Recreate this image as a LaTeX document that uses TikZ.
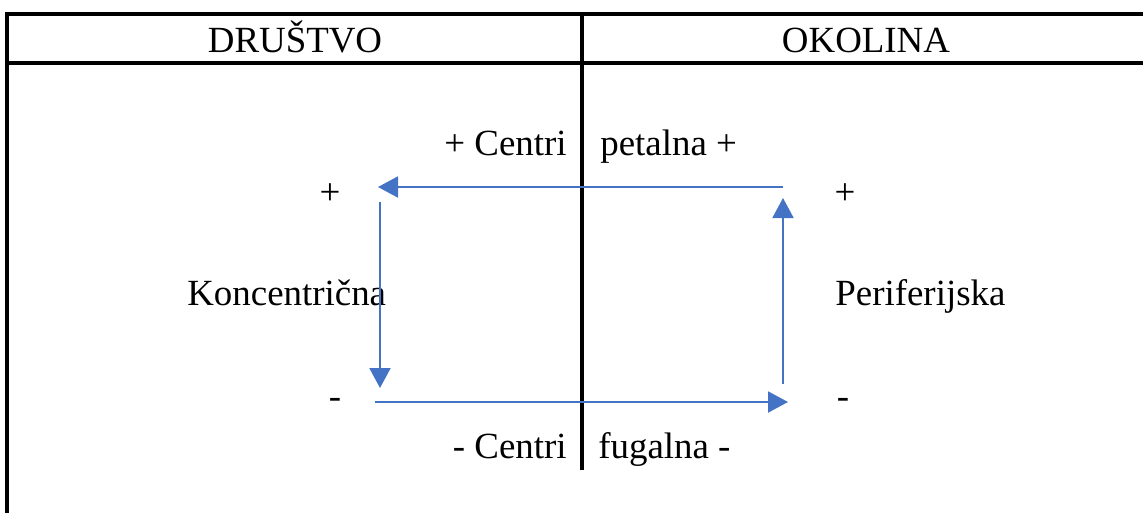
\documentclass[tikz,border=0pt]{standalone}
\usepackage{fontspec}
\setmainfont{Liberation Serif}
\usetikzlibrary{arrows.meta}
\definecolor{flowblue}{HTML}{4472C4}

\begin{document}
\begin{tikzpicture}[x=0.02cm,y=-0.02cm,
		frame/.style={line width=0.065cm},
		flow/.style={flowblue,line width=0.04cm,-{Triangle[length=0.4cm,width=0.42cm]}},
		every node/.style={font=\fontsize{21}{25}\selectfont,inner sep=0pt}]
			
			\useasboundingbox (0,0) rectangle (1143,512);
			
			% table lines
			\draw[frame] (7,530) -- (7,14) -- (1160,14);
			\draw[frame] (7,63) -- (1160,63);
			\draw[frame] (582,14) -- (582,470);
			
			\node[anchor=base] (drustvo) at (295,52) {DRUŠTVO};
			\node[anchor=base] (okolina) at (866,52) {OKOLINA};
			
			\node[anchor=base east] (cplus) at (567,155) {+ Centri};
			\node[anchor=base west] (petalna) at (600,155) {petalna +};
			\node[anchor=base east] (cminus) at (567,458) {- Centri};
			\node[anchor=base west] (fugalna) at (598,458) {fugalna -};
			
			\node[anchor=base west] (konc) at (187,305) {Koncentrična};
			\node[anchor=base west] (perif) at (835,305) {Periferijska};
			
			\node[anchor=base] (lplus) at (330,204) {+};
			\node[anchor=base] (rplus) at (845,204) {+};
			\node[anchor=base] (lminus) at (335,408) {-};
			\node[anchor=base] (rminus) at (843,408) {-};
			
			% the cycle
			\coordinate (A1) at (783,187);
			\coordinate (A2) at (378,187);
			\coordinate (B1) at (380,202);
			\coordinate (B2) at (380,388);
			\coordinate (C1) at (375,402);
			\coordinate (C2) at (788,402);
			\coordinate (D1) at (783,384);
			\coordinate (D2) at (783,198);
			
			\draw[flow] (A1) -- (A2);
			\draw[flow] (B1) -- (B2);
			\draw[flow] (C1) -- (C2);
			\draw[flow] (D1) -- (D2);
			
		\end{tikzpicture}
\end{document}
